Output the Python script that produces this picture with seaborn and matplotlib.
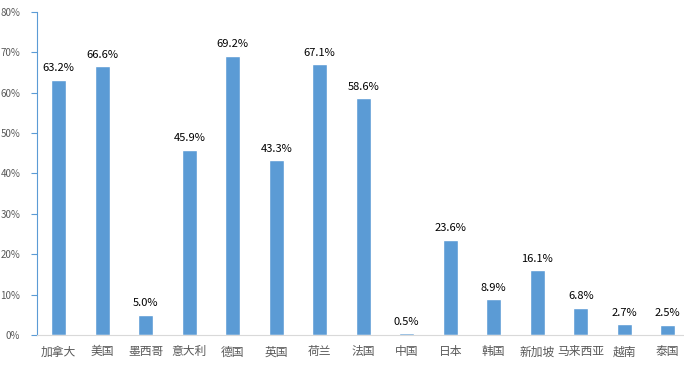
import seaborn as sns
import matplotlib.pyplot as plt
import pandas as pd
from matplotlib.ticker import PercentFormatter

# Country names and shares.
countries = ['加拿大', '美国', '墨西哥', '意大利', '德国', '英国', '荷兰', '法国',
             '中国', '日本', '韩国', '新加坡', '马来西亚', '越南', '泰国']
shares = [63.2, 66.6, 5.0, 45.9, 69.2, 43.3, 67.1, 58.6,
          0.5, 23.6, 8.9, 16.1, 6.8, 2.7, 2.5]

df = pd.DataFrame({'country': countries, 'share': shares})

sns.set_style('white')
plt.rcParams['font.family'] = ['Noto Sans CJK SC', 'DejaVu Sans']

fig = plt.figure(figsize=(6.84, 3.70), dpi=100)
ax = fig.add_axes([37 / 684, 35 / 370, 647 / 684, 323 / 370])

sns.barplot(data=df, x='country', y='share', color='#5B9BD5', saturation=1,
            width=0.34, ax=ax)

# Labels above bars
for i, v in enumerate(shares):
    ax.text(i, v + 1.6, '{:.1f}%'.format(v), ha='center', va='bottom',
            fontsize=8, color='#000000')

ax.set_ylim(0, 80)
ax.set_xlim(-0.5, -0.5 + 647 / 43.5)
ax.set_yticks(range(0, 81, 10))
ax.yaxis.set_major_formatter(PercentFormatter(decimals=0))
ax.set_xlabel('')
ax.set_ylabel('')

for s in ['top', 'right']:
    ax.spines[s].set_visible(False)
ax.spines['left'].set_color('#5B9BD5')
ax.spines['left'].set_linewidth(0.8)
ax.spines['bottom'].set_color('#D9D9D9')
ax.spines['bottom'].set_linewidth(0.8)

ax.tick_params(axis='y', left=True, length=4, width=0.8, color='#5B9BD5',
               labelsize=7, labelcolor='#595959', pad=8)
ax.tick_params(axis='x', bottom=False, labelsize=8.5, labelcolor='#595959', pad=4)

fig.savefig('out.png', dpi=100)
